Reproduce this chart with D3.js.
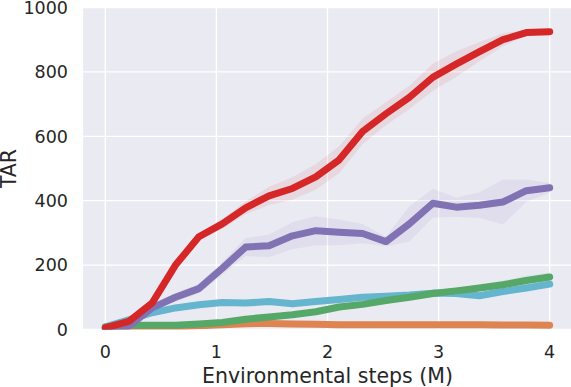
<!DOCTYPE html>
<html lang="en">
  <head>
    <meta charset="UTF-8" />
    <title>TAR vs environmental steps</title>
    <style>
      body {
        margin: 0;
        background-color: white;
      }
      text {
        font-family: "DejaVu Sans", sans-serif;
        fill: #262626;
      }
    </style>
  </head>
  <body>
    <script src="https://d3js.org/d3.v7.min.js"></script>
    <svg id="chart" width="571" height="387"></svg>
    <script>
      // x positions: 20 evaluation points between 0 and 4 M steps
      var steps = d3.range(20).map(function (i) {
        return (4 * i) / 19;
      });

      // mean curves
      var redMean = [5, 25, 82, 200, 288, 328, 378, 415, 438, 474, 527, 615, 670, 721, 783, 824, 863, 900, 922, 925];
      var purpleMean = [3, 10, 67, 100, 127, 190, 256, 260, 291, 307, 302, 298, 273, 328, 392, 380, 386, 396, 431, 440];
      var greenMean = [8, 13, 13, 13, 17, 22, 32, 39, 46, 55, 70, 78, 90, 100, 112, 120, 129, 139, 152, 163];
      var cyanMean = [8, 30, 52, 67, 77, 84, 82, 87, 80, 87, 93, 100, 103, 107, 113, 112, 105, 118, 129, 141];
      var orangeMean = [2, 3, 5, 8, 12, 15, 18, 19, 17, 16, 15, 15, 15, 15, 15, 15, 15, 14, 14, 13];

      // half width of the shaded bands
      var redSpread = [4, 5, 8, 10, 12, 15, 20, 28, 35, 40, 42, 40, 36, 36, 42, 40, 30, 20, 10, 5];
      var purpleSpread = [2, 5, 10, 14, 15, 20, 28, 35, 42, 45, 40, 30, 15, 55, 45, 30, 40, 70, 35, 15];
      var greenSpread = [2, 3, 3, 4, 5, 5, 6, 6, 7, 8, 8, 9, 10, 10, 10, 10, 11, 13, 15, 14];
      var cyanSpread = [3, 4, 5, 5, 5, 5, 5, 5, 5, 5, 5, 5, 5, 5, 6, 6, 6, 6, 6, 5];
      var orangeSpread = [2, 2, 2, 3, 3, 3, 3, 3, 3, 3, 3, 3, 3, 3, 3, 3, 3, 3, 3, 3];

      var xTicks = [0, 1, 2, 3, 4];
      var yTicks = [0, 200, 400, 600, 800, 1000];

      // drawing order: first one ends up at the bottom
      var series = [
        { mean: orangeMean, spread: orangeSpread, color: "#dd8452" },
        { mean: cyanMean, spread: cyanSpread, color: "#64b5cd" },
        { mean: greenMean, spread: greenSpread, color: "#55a868" },
        { mean: purpleMean, spread: purpleSpread, color: "#8172b3" },
        { mean: redMean, spread: redSpread, color: "#d62728" },
      ];

      var svg = d3.select("#chart");
      var pLeft = 83.1,
        pRight = 571.9,
        pTop = 7.5,
        pBottom = 329.5;

      var x = d3.scaleLinear().domain([-0.2, 4.2]).range([pLeft, pRight]);
      var y = d3.scaleLinear().domain([0, 1000]).range([pBottom, pTop]);

      // background panel
      svg
        .append("rect")
        .attr("x", pLeft)
        .attr("y", pTop)
        .attr("width", pRight - pLeft)
        .attr("height", pBottom - pTop)
        .attr("fill", "#eaeaf2");

      svg
        .append("clipPath")
        .attr("id", "panel")
        .append("rect")
        .attr("x", pLeft)
        .attr("y", pTop)
        .attr("width", pRight - pLeft)
        .attr("height", pBottom - pTop);

      // grid
      svg
        .append("g")
        .selectAll("line")
        .data(xTicks)
        .enter()
        .append("line")
        .attr("x1", function (d) {
          return x(d);
        })
        .attr("x2", function (d) {
          return x(d);
        })
        .attr("y1", pTop)
        .attr("y2", pBottom)
        .attr("stroke", "white")
        .attr("stroke-width", 1.3);

      svg
        .append("g")
        .selectAll("line")
        .data(yTicks)
        .enter()
        .append("line")
        .attr("x1", pLeft)
        .attr("x2", pRight)
        .attr("y1", function (d) {
          return y(d);
        })
        .attr("y2", function (d) {
          return y(d);
        })
        .attr("stroke", "white")
        .attr("stroke-width", 1.3);

      var plot = svg.append("g").attr("clip-path", "url(#panel)");

      var band = d3
        .area()
        .x(function (d) {
          return x(d.x);
        })
        .y0(function (d) {
          return y(d.m - d.s);
        })
        .y1(function (d) {
          return y(d.m + d.s);
        });

      var line = d3
        .line()
        .x(function (d) {
          return x(d.x);
        })
        .y(function (d) {
          return y(d.m);
        });

      series.forEach(function (s) {
        var pts = steps.map(function (v, i) {
          return { x: v, m: s.mean[i], s: s.spread[i] };
        });
        plot
          .append("path")
          .attr("d", band(pts))
          .attr("fill", s.color)
          .attr("fill-opacity", 0.09);
      });

      series.forEach(function (s) {
        var pts = steps.map(function (v, i) {
          return { x: v, m: s.mean[i] };
        });
        plot
          .append("path")
          .attr("d", line(pts))
          .attr("fill", "none")
          .attr("stroke", s.color)
          .attr("stroke-width", 7)
          .attr("stroke-linecap", "round")
          .attr("stroke-linejoin", "round");
      });

      // tick labels
      svg
        .append("g")
        .selectAll("text")
        .data(xTicks)
        .enter()
        .append("text")
        .attr("x", function (d) {
          return x(d);
        })
        .attr("y", 358)
        .attr("text-anchor", "middle")
        .style("font-size", "17.5px")
        .text(function (d) {
          return d;
        });

      svg
        .append("g")
        .selectAll("text")
        .data(yTicks)
        .enter()
        .append("text")
        .attr("x", 68)
        .attr("y", function (d) {
          return y(d);
        })
        .attr("dy", "0.36em")
        .attr("text-anchor", "end")
        .style("font-size", "17.5px")
        .text(function (d) {
          return d;
        });

      // axis labels
      svg
        .append("text")
        .attr("x", (pLeft + pRight) / 2)
        .attr("y", 383)
        .attr("text-anchor", "middle")
        .style("font-size", "20.5px")
        .text("Environmental steps (M)");

      svg
        .append("text")
        .attr("transform", "translate(15.5," + (pTop + pBottom) / 2 + ") rotate(-90)")
        .attr("text-anchor", "middle")
        .style("font-size", "20.5px")
        .text("TAR");
    </script>
  </body>
</html>
